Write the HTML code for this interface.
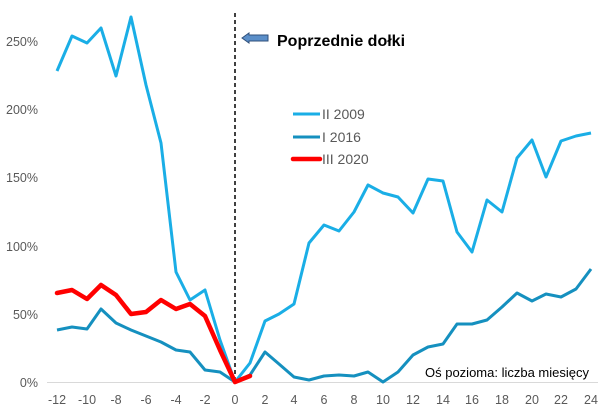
<!DOCTYPE html>
<html><head><meta charset="utf-8"><style>body{margin:0;background:#fff}svg{display:block}</style></head><body>
<svg width="606" height="417" xmlns="http://www.w3.org/2000/svg" font-family="Liberation Sans, sans-serif">
<line x1="47" y1="382.5" x2="598" y2="382.5" stroke="#d9d9d9" stroke-width="1"/>
<g fill="#595959" font-size="12.5" text-anchor="end">
<text x="38" y="387">0%</text><text x="38" y="319">50%</text><text x="38" y="251">100%</text><text x="38" y="182">150%</text><text x="38" y="114">200%</text><text x="38" y="46">250%</text>
</g>
<g fill="#595959" font-size="12.5" text-anchor="middle">
<text x="57" y="404">-12</text><text x="87" y="404">-10</text><text x="116" y="404">-8</text><text x="146" y="404">-6</text><text x="176" y="404">-4</text><text x="205" y="404">-2</text><text x="235" y="404">0</text><text x="265" y="404">2</text><text x="294" y="404">4</text><text x="324" y="404">6</text><text x="354" y="404">8</text><text x="383" y="404">10</text><text x="413" y="404">12</text><text x="443" y="404">14</text><text x="472" y="404">16</text><text x="502" y="404">18</text><text x="532" y="404">20</text><text x="561" y="404">22</text><text x="591" y="404">24</text>
</g>
<line x1="235" y1="13" x2="235" y2="382" stroke="#000" stroke-width="1.5" stroke-dasharray="4,3"/>
<polyline fill="none" stroke="#1aaee6" stroke-width="3" stroke-linejoin="round" points="57,71 72,36 87,43 101,28 116,76 131,17 146,85 161,143 176,272 190,300 205,290 220,340 235,382 250,363 265,321 279,314 294,304 309,243 324,225 339,231 354,212 368,185 383,193 398,197 413,213 428,179 443,181 457,232 472,252 487,200 502,212 517,158 532,140 546,177 561,141 576,136 591,133"/>
<polyline fill="none" stroke="#1590bf" stroke-width="3" stroke-linejoin="round" points="57,330 72,327 87,329 101,309 116,323 131,330 146,336 161,342 176,350 190,352 205,370 220,372 235,382 250,375 265,352 279,364 294,377 309,380 324,376 339,375 354,376 368,372 383,382 398,372 413,355 428,347 443,344 457,324 472,324 487,320 502,307 517,293 532,301 546,294 561,297 576,289 591,269"/>
<polyline fill="none" stroke="#ff0000" stroke-width="4.5" stroke-linejoin="round" stroke-linecap="round" points="57,293 72,290 87,299 101,285 116,295 131,314 146,312 161,300 176,309 190,304 205,316 220,350 235,382 250,376"/>
<line x1="293" y1="114" x2="320" y2="114" stroke="#1aaee6" stroke-width="3"/>
<line x1="293" y1="137" x2="320" y2="137" stroke="#1590bf" stroke-width="3"/>
<line x1="293" y1="159" x2="320" y2="159" stroke="#ff0000" stroke-width="4.5" stroke-linecap="round"/>
<g fill="#595959" font-size="14"><text x="322" y="119">II 2009</text><text x="322" y="142">I 2016</text><text x="322" y="164">III 2020</text></g>
<polygon points="242,38 249,33 249,35 268,35 268,41 249,41 249,43" fill="#5b8fc9" stroke="#2f4f7a" stroke-width="1"/>
<text x="277" y="46" font-size="16" font-weight="bold" fill="#000">Poprzednie dołki</text>
<text x="425" y="377" font-size="13" fill="#000">Oś pozioma: liczba miesięcy</text>
</svg>
</body></html>
